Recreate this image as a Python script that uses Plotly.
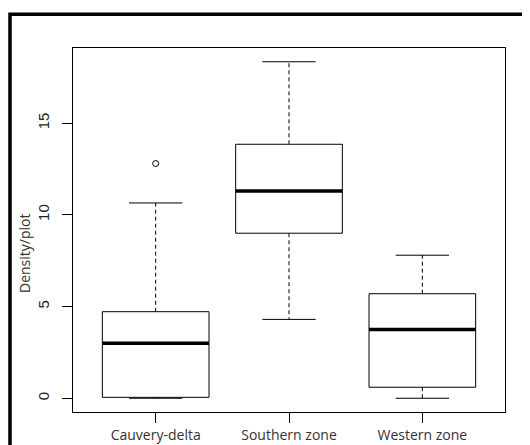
import plotly.graph_objects as go

# ---- data ----
categories = ["Cauvery-delta", "Southern zone", "Western zone"]
positions = [1, 2, 3]
lower_whisker = [0.0, 4.3, 0.0]
q1 = [0.05, 9.0, 0.6]
median = [3.0, 11.3, 3.75]
q3 = [4.72, 13.85, 5.7]
upper_whisker = [10.65, 18.35, 7.8]
outlier_group = ["Cauvery-delta"]
outlier_value = [12.8]
y_ticks = [0, 5, 10, 15]

BOX_W = 0.8
CAP_W = 0.4

# page has an 8px body margin; layout below is in figure coordinates
OFF = 8
PL, PR, PT, PB = 73 - OFF, 505 - OFF, 48 - OFF, 412 - OFF  # plot box in figure px
W, H = 530, 445

fig = go.Figure()

for i, cat in enumerate(categories):
    p = positions[i]
    l, r = p - BOX_W / 2, p + BOX_W / 2
    cl, cr = p - CAP_W / 2, p + CAP_W / 2
    # whiskers (dashed)
    fig.add_trace(go.Scatter(
        x=[p, p, None, p, p],
        y=[q3[i], upper_whisker[i], None, q1[i], lower_whisker[i]],
        mode="lines", line=dict(color="black", width=1, dash="4px,3px"),
        hoverinfo="skip", showlegend=False))
    # caps
    fig.add_trace(go.Scatter(
        x=[cl, cr, None, cl, cr],
        y=[upper_whisker[i], upper_whisker[i], None, lower_whisker[i], lower_whisker[i]],
        mode="lines", line=dict(color="black", width=1),
        hoverinfo="skip", showlegend=False))
    # box
    fig.add_trace(go.Scatter(
        x=[l, r, r, l, l],
        y=[q1[i], q1[i], q3[i], q3[i], q1[i]],
        mode="lines", line=dict(color="black", width=1),
        fill="toself", fillcolor="white",
        name=cat, showlegend=False))
    # median
    fig.add_trace(go.Scatter(
        x=[l, r], y=[median[i], median[i]],
        mode="lines", line=dict(color="black", width=3.5),
        hoverinfo="skip", showlegend=False))

# outliers
fig.add_trace(go.Scatter(
    x=[positions[categories.index(g)] for g in outlier_group],
    y=outlier_value, mode="markers",
    marker=dict(symbol="circle-open", size=6, color="black", line=dict(width=1)),
    showlegend=False))

fig.update_layout(
    width=W, height=H,
    margin=dict(l=PL, r=W - PR, t=PT, b=H - PB),
    paper_bgcolor="white", plot_bgcolor="white",
    showlegend=False,
)

fig.update_xaxes(
    range=[0.38, 3.62], tickvals=positions, ticktext=categories,
    ticks="outside", ticklen=10, tickwidth=1, tickcolor="black",
    showline=True, linecolor="black", linewidth=1, mirror=True,
    showgrid=False, zeroline=False, ticklabelstandoff=0, automargin=False,
    tickfont=dict(family="Open Sans", size=14, color="#333333"),
)
fig.update_yaxes(
    range=[-0.75, 19.1], tickvals=y_ticks, ticktext=[str(v) for v in y_ticks],
    ticks="outside", ticklen=10, tickwidth=1, tickcolor="black",
    showline=True, linecolor="black", linewidth=1, mirror=True,
    showgrid=False, zeroline=False, tickangle=-90, automargin=False,
    ticklabelstandoff=7,
    tickfont=dict(family="Liberation Sans", size=15, color="#222222"),
)

pw, ph = PR - PL, PB - PT

# y-axis title
fig.add_annotation(
    text="Density/plot", textangle=-90, showarrow=False,
    xref="paper", yref="paper",
    x=(24 - OFF - PL) / pw, y=(PB - (254 - OFF)) / ph,
    xanchor="center", yanchor="middle",
    font=dict(family="Open Sans", size=14, color="#333333"),
)

# outer thick frame (partially outside the window)
fig.add_shape(
    type="rect", xref="paper", yref="paper",
    x0=(10 - OFF - PL) / pw, x1=1.3, y0=-0.3, y1=(PB - (14.3 - OFF)) / ph,
    line=dict(color="black", width=3.5), fillcolor="rgba(0,0,0,0)", layer="above",
)

fig.write_html("out.html")
